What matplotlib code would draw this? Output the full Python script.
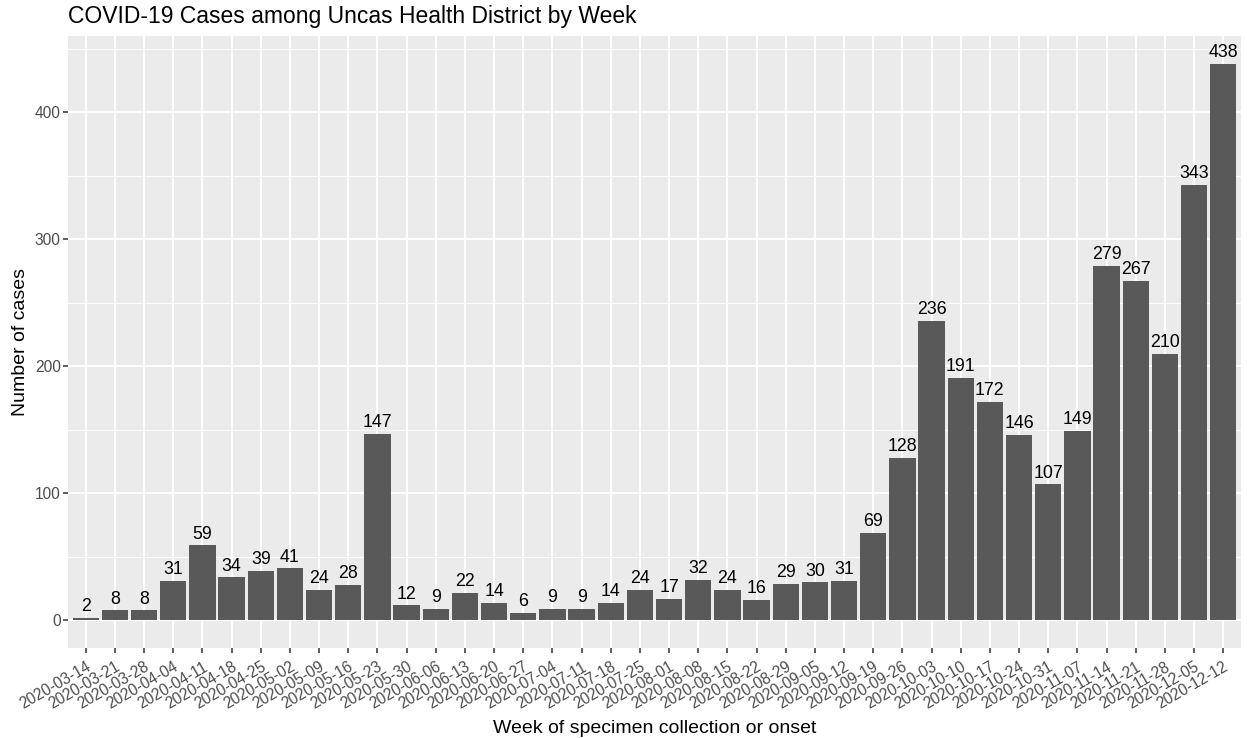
import matplotlib
matplotlib.use("Agg")
import matplotlib.pyplot as plt
from matplotlib.ticker import MultipleLocator

plt.rcParams['font.family'] = ['Liberation Sans', 'DejaVu Sans']

weeks = ["2020-03-14", "2020-03-21", "2020-03-28", "2020-04-04", "2020-04-11",
         "2020-04-18", "2020-04-25", "2020-05-02", "2020-05-09", "2020-05-16",
         "2020-05-23", "2020-05-30", "2020-06-06", "2020-06-13", "2020-06-20",
         "2020-06-27", "2020-07-04", "2020-07-11", "2020-07-18", "2020-07-25",
         "2020-08-01", "2020-08-08", "2020-08-15", "2020-08-22", "2020-08-29",
         "2020-09-05", "2020-09-12", "2020-09-19", "2020-09-26", "2020-10-03",
         "2020-10-10", "2020-10-17", "2020-10-24", "2020-10-31", "2020-11-07",
         "2020-11-14", "2020-11-21", "2020-11-28", "2020-12-05", "2020-12-12"]
cases = [2, 8, 8, 31, 59, 34, 39, 41, 24, 28,
         147, 12, 9, 22, 14, 6, 9, 9, 14, 24,
         17, 32, 24, 16, 29, 30, 31, 69, 128, 236,
         191, 172, 146, 107, 149, 279, 267, 210, 343, 438]

W, H = 1247, 738
fig = plt.figure(figsize=(W / 100, H / 100), dpi=100)
# panel in pixels: left 68, right 1241, top 36, bottom 648
ax = fig.add_axes([68.3 / W, 1 - 648.3 / H, (1240.7 - 68.3) / W, (648.3 - 36) / H])
ax.set_facecolor("#EBEBEB")

x = list(range(1, len(weeks) + 1))
ax.bar(x, cases, width=0.9, color="#595959", zorder=3)

for xi, v in zip(x, cases):
    ax.annotate(str(v), (xi, v), xytext=(0, 4.8), textcoords="offset points",
                ha="center", va="baseline", fontsize=12.8, color="black", zorder=4)

ymax = max(cases)
ax.set_xlim(0.4, len(weeks) + 0.6)
ax.set_ylim(-0.05 * ymax, 1.05 * ymax)

ax.set_xticks(x)
ax.set_xticklabels(weeks, rotation=30, ha="right", va="top", rotation_mode="anchor")
ax.yaxis.set_major_locator(MultipleLocator(100))
ax.yaxis.set_minor_locator(MultipleLocator(50))

ax.grid(which="major", color="white", linewidth=1.4, zorder=0)
ax.grid(which="minor", axis="y", color="white", linewidth=0.7, zorder=0)
ax.set_axisbelow(True)

for s in ax.spines.values():
    s.set_visible(False)
ax.tick_params(axis="both", which="major", length=3.3, width=1.1, color="#333333",
               labelcolor="#4D4D4D", labelsize=11.2, pad=2.2)
ax.tick_params(axis="x", which="major", pad=4.5)
ax.tick_params(axis="y", which="minor", length=0)

fig.text(654.5 / W, 1 - 732.7 / H, "Week of specimen collection or onset",
         ha="center", va="baseline", fontsize=14)
fig.text(20.5 / W, 1 - 342 / H, "Number of cases", rotation=90,
         ha="center", va="center", fontsize=14)
ax.set_title("COVID-19 Cases among Uncas Health District by Week", loc="left",
             fontsize=16.5, pad=9)

fig.savefig("out.png", dpi=100)
